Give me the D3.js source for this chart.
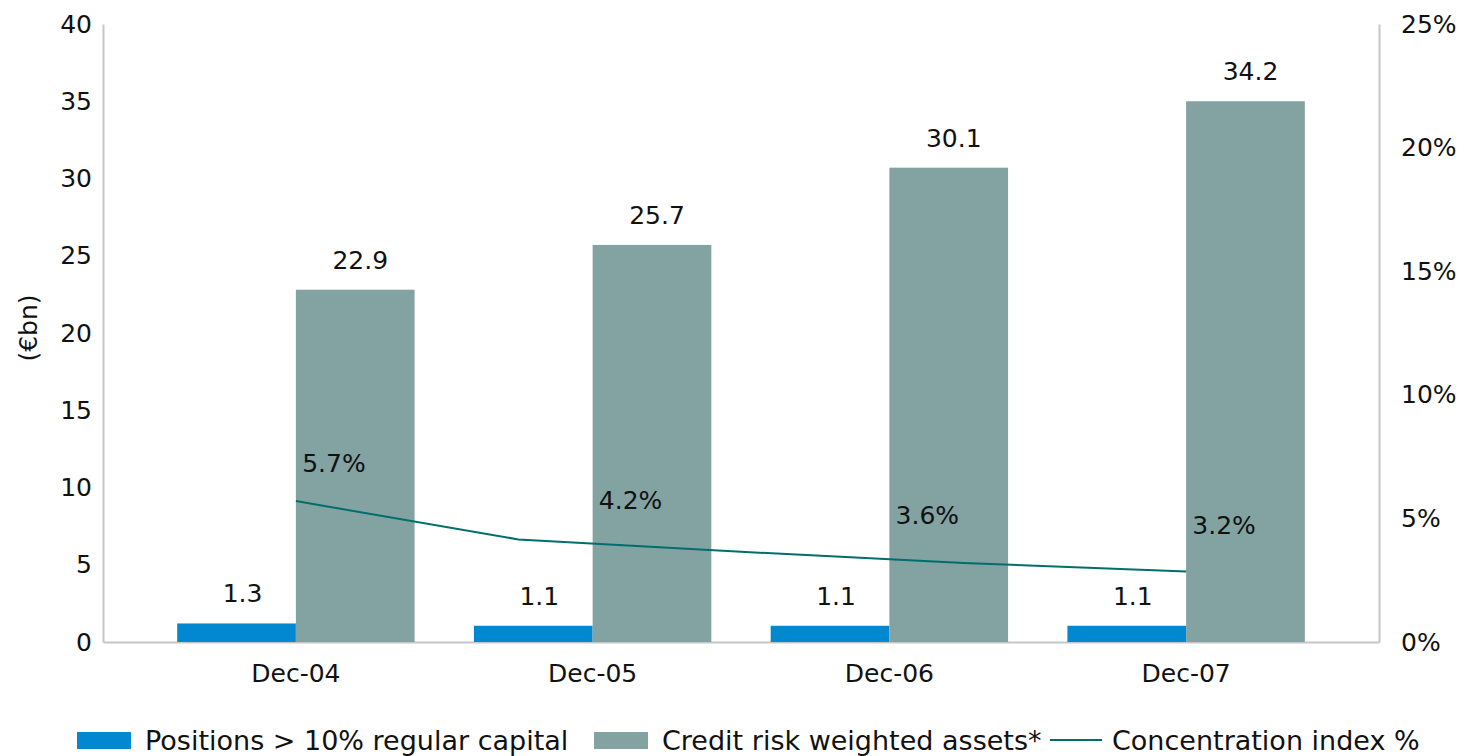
<!DOCTYPE html>
<html>
<head>
<meta charset="utf-8">
<script src="https://cdn.jsdelivr.net/npm/d3@7"></script>
<style>
  body { margin: 0; background: #fff; }
  svg { display: block; font-family: "DejaVu Sans", Verdana, sans-serif; }
</style>
</head>
<body>
<div id="chart"></div>
<script>
const categories = ["Dec-04", "Dec-05", "Dec-06", "Dec-07"];
// bar heights as drawn, and the labels printed above them
const positionsValues = [1.2, 1.05, 1.05, 1.05];
const positionsLabels = ["1.3", "1.1", "1.1", "1.1"];
const rwaValues = [22.8, 25.7, 30.7, 35.0];
const rwaLabels = ["22.9", "25.7", "30.1", "34.2"];
// concentration index line (5 points drawn between first and last group centre)
const indexValues = [5.7, 4.15, 3.65, 3.2, 2.85];
const indexLabels = ["5.7%", "4.2%", "3.6%", "3.2%"];
const indexLabelValues = [5.7, 4.2, 3.6, 3.2];
const leftTicks = [0, 5, 10, 15, 20, 25, 30, 35, 40];
const rightTicks = [0, 5, 10, 15, 20, 25];
const legendNames = ["Positions > 10% regular capital", "Credit risk weighted assets*", "Concentration index %"];

const width = 1469, height = 756;
const margin = { top: 24, right: 90, bottom: 114, left: 103 };
const blue = "#0288d1", grey = "#83a2a2", lineColor = "#006e6a", axisColor = "#c6c6c6";

const svg = d3.select("#chart").append("svg")
  .attr("width", width)
  .attr("height", height);

const x = d3.scaleBand()
  .domain(categories)
  .range([margin.left, width - margin.right])
  .paddingInner(0.2)
  .paddingOuter(0.25);

const y = d3.scaleLinear().domain([0, 40]).range([height - margin.bottom, margin.top]);
const yR = d3.scaleLinear().domain([0, 25]).range([height - margin.bottom, margin.top]);

const half = x.bandwidth() / 2;

// axes
svg.append("g")
  .attr("transform", "translate(" + margin.left + ",0)")
  .style("font-size", "25px")
  .call(d3.axisLeft(y).tickValues(leftTicks).tickSize(0).tickPadding(11))
  .call(g => g.select(".domain").attr("stroke", axisColor).attr("stroke-width", 2))
  .call(g => g.selectAll("text").attr("fill", "#111").style("font-family", "DejaVu Sans"));

svg.append("g")
  .attr("transform", "translate(" + (width - margin.right) + ",0)")
  .style("font-size", "25px")
  .call(d3.axisRight(yR).tickValues(rightTicks).tickFormat(d => d + "%").tickSize(0).tickPadding(22))
  .call(g => g.select(".domain").attr("stroke", axisColor).attr("stroke-width", 2))
  .call(g => g.selectAll("text").attr("fill", "#111").style("font-family", "DejaVu Sans"));

svg.append("g")
  .attr("transform", "translate(0," + (height - margin.bottom) + ")")
  .style("font-size", "25px")
  .call(d3.axisBottom(x).tickSize(0).tickPadding(22))
  .call(g => g.select(".domain").attr("stroke", axisColor).attr("stroke-width", 2))
  .call(g => g.selectAll("text").attr("fill", "#111").style("font-family", "DejaVu Sans"));

svg.append("text")
  .attr("transform", "translate(37," + 328 + ") rotate(-90)")
  .attr("text-anchor", "middle")
  .style("font-size", "25px")
  .attr("fill", "#111")
  .text("(€bn)");

// bars
svg.append("g").selectAll("rect")
  .data(categories)
  .join("rect")
  .attr("x", d => x(d))
  .attr("width", half)
  .attr("y", (d, i) => y(positionsValues[i]))
  .attr("height", (d, i) => y(0) - y(positionsValues[i]))
  .attr("fill", blue);

svg.append("g").selectAll("rect")
  .data(categories)
  .join("rect")
  .attr("x", d => x(d) + half)
  .attr("width", half)
  .attr("y", (d, i) => y(rwaValues[i]))
  .attr("height", (d, i) => y(0) - y(rwaValues[i]))
  .attr("fill", grey);

// bar labels
svg.append("g").selectAll("text")
  .data(categories)
  .join("text")
  .attr("x", d => x(d) + half / 2 + 6)
  .attr("y", (d, i) => y(positionsValues[i]) - 21)
  .attr("text-anchor", "middle")
  .style("font-size", "25px")
  .attr("fill", "#111")
  .text((d, i) => positionsLabels[i]);

svg.append("g").selectAll("text")
  .data(categories)
  .join("text")
  .attr("x", d => x(d) + half * 1.5 + 5)
  .attr("y", (d, i) => y(rwaValues[i]) - 21)
  .attr("text-anchor", "middle")
  .style("font-size", "25px")
  .attr("fill", "#111")
  .text((d, i) => rwaLabels[i]);

// concentration line
const xl = d3.scalePoint()
  .domain(d3.range(indexValues.length))
  .range([x(categories[0]) + half, x(categories[categories.length - 1]) + half]);

svg.append("path")
  .datum(indexValues)
  .attr("fill", "none")
  .attr("stroke", lineColor)
  .attr("stroke-width", 2)
  .attr("d", d3.line().x((d, i) => xl(i)).y(d => yR(d)));

svg.append("g").selectAll("text")
  .data(categories)
  .join("text")
  .attr("x", d => x(d) + half + 38)
  .attr("y", (d, i) => yR(indexLabelValues[i]) - 29)
  .attr("text-anchor", "middle")
  .style("font-size", "25px")
  .attr("fill", "#111")
  .text((d, i) => indexLabels[i]);

// legend
const legend = svg.append("g").style("font-size", "27px");
const legendX = [77, 594, 1050];
const legendY = 740;
legend.append("rect").attr("x", legendX[0]).attr("y", legendY - 8).attr("width", 54).attr("height", 17).attr("fill", blue);
legend.append("rect").attr("x", legendX[1]).attr("y", legendY - 8).attr("width", 54).attr("height", 17).attr("fill", grey);
legend.append("line").attr("x1", legendX[2]).attr("x2", legendX[2] + 52)
  .attr("y1", legendY).attr("y2", legendY).attr("stroke", lineColor).attr("stroke-width", 2);
legend.selectAll("text")
  .data(legendNames)
  .join("text")
  .attr("x", (d, i) => legendX[i] + (i === 2 ? 62 : 68))
  .attr("y", legendY + 10)
  .attr("fill", "#111")
  .text(d => d);
</script>
</body>
</html>
